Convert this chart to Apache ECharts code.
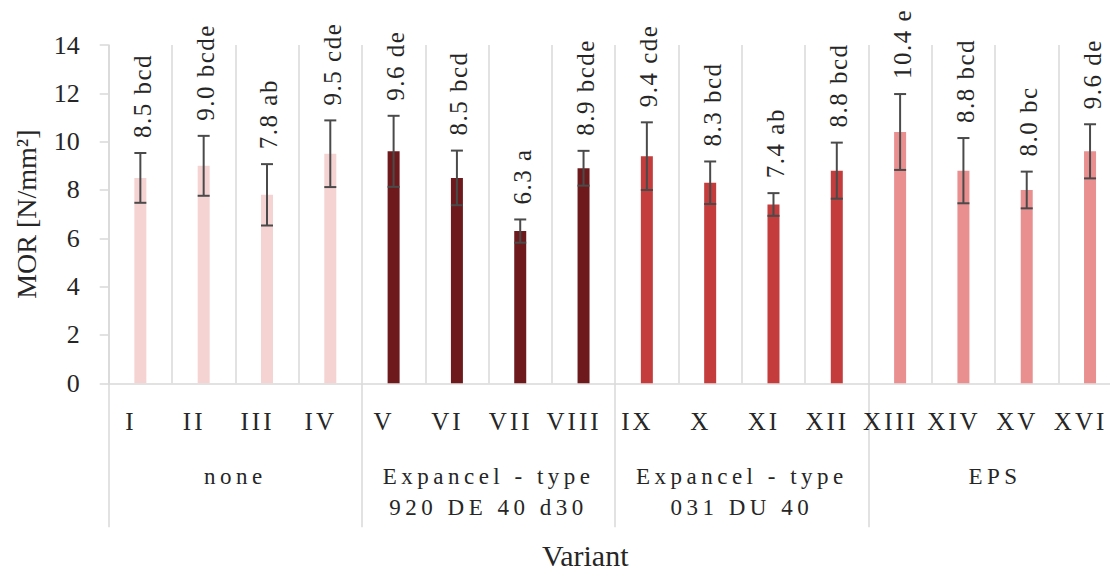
<!DOCTYPE html>
<html>
<head>
<meta charset="utf-8">
<script src="https://cdn.jsdelivr.net/npm/echarts@6/dist/echarts.min.js"></script>
<style>
  html, body { margin: 0; padding: 0; background: #fff; }
  #chart { width: 1110px; height: 571px; }
</style>
</head>
<body>
<div id="chart"></div>
<script>
// Variant labels along the category axis
const variants = ['I', 'II', 'III', 'IV', 'V', 'VI', 'VII', 'VIII',
                  'IX', 'X', 'XI', 'XII', 'XIII', 'XIV', 'XV', 'XVI'];
// Blowing-agent groups, four variants each
const groups = ['none', 'Expancel - type\n920 DE 40 d30', 'Expancel - type\n031 DU 40', 'EPS'];
const groupSize = 4;
// Mean MOR [N/mm²]
const morMean = [8.5, 9.0, 7.8, 9.5, 9.6, 8.5, 6.3, 8.9, 9.4, 8.3, 7.4, 8.8, 10.4, 8.8, 8.0, 9.6];
// Standard deviation
const morSd = [1.03, 1.24, 1.27, 1.38, 1.47, 1.13, 0.48, 0.72, 1.40, 0.88, 0.47, 1.16, 1.57, 1.35, 0.76, 1.12];
// Homogeneous-group letters
const letters = ['bcd', 'bcde', 'ab', 'cde', 'de', 'bcd', 'a', 'bcde',
                 'cde', 'bcd', 'ab', 'bcd', 'e', 'bcd', 'bc', 'de'];
// Y-axis range
const yMin = 0, yMax = 14, yStep = 2;

const groupColors = ['#f6d3d3', '#6e1a1c', '#c43c3c', '#ea8f90'];
const FONT = 'Liberation Serif';
const gridColor = '#d9d9d9';
const textColor = '#262626';

const chart = echarts.init(document.getElementById('chart'), null, { renderer: 'svg' });

const barData = morMean.map((v, i) => ({
  value: v,
  itemStyle: { color: groupColors[Math.floor(i / groupSize)] }
}));

const errData = morMean.map((v, i) => [i, v - morSd[i], v + morSd[i], v]);
const valueLabels = morMean.map((v, i) => v.toFixed(1) + ' ' + letters[i]);

chart.setOption({
  animation: false,
  backgroundColor: '#fff',
  grid: {
    left: 108.7, top: 45, width: 1013, bottom: 187.7,
    containLabel: false, outerBoundsMode: 'none'
  },
  xAxis: [
    {
      type: 'category',
      data: variants,
      boundaryGap: true,
      axisLine: { show: true, lineStyle: { color: gridColor, width: 1.5 } },
      axisTick: { show: false },
      splitLine: { show: true, interval: 0, lineStyle: { color: gridColor, width: 1.5 } },
      axisLabel: {
        interval: 0, margin: 26,
        fontFamily: FONT, fontSize: 25, color: textColor,
        padding: [0, 19, 0, 0]
      }
    },
    {
      type: 'category',
      data: groups,
      position: 'bottom',
      boundaryGap: true,
      axisLine: { show: false },
      axisTick: { show: true, interval: 0, length: 144, inside: false,
                  lineStyle: { color: gridColor, width: 1.5 } },
      axisLabel: {
        interval: 0, margin: 78,
        fontFamily: FONT, fontSize: 23, color: textColor,
        verticalAlign: 'top', lineHeight: 31, align: 'center'
      },
      name: 'Variant',
      nameLocation: 'middle',
      nameGap: 157,
      nameTextStyle: { fontFamily: FONT, fontSize: 30, color: textColor, padding: [0, 60, 0, 0] }
    }
  ],
  yAxis: {
    type: 'value',
    min: yMin, max: yMax, interval: yStep,
    axisLine: { show: true, lineStyle: { color: gridColor, width: 1.5 } },
    axisTick: { show: true, length: 9, lineStyle: { color: gridColor, width: 1.5 } },
    splitLine: { show: false },
    axisLabel: { margin: 29, fontFamily: FONT, fontSize: 26, color: textColor },
    name: 'MOR [N/mm²]',
    nameLocation: 'middle',
    nameRotate: 90,
    nameGap: 68,
    nameTextStyle: { fontFamily: FONT, fontSize: 28, color: textColor }
  },
  series: [
    {
      type: 'bar',
      xAxisIndex: 0,
      data: barData,
      barWidth: 12
    },
    {
      type: 'custom',
      xAxisIndex: 0,
      data: errData,
      z: 5,
      renderItem: function (params, api) {
        const i = api.value(0);
        const lo = api.coord([i, api.value(1)]);
        const hi = api.coord([i, api.value(2)]);
        const capHalf = 6;
        const ls = { stroke: '#4a4a4a', lineWidth: 2 };
        return {
          type: 'group',
          children: [
            { type: 'line', shape: { x1: hi[0], y1: hi[1], x2: lo[0], y2: lo[1] }, style: ls },
            { type: 'line', shape: { x1: hi[0] - capHalf, y1: hi[1], x2: hi[0] + capHalf, y2: hi[1] }, style: ls },
            { type: 'line', shape: { x1: lo[0] - capHalf, y1: lo[1], x2: lo[0] + capHalf, y2: lo[1] }, style: ls },
            {
              type: 'text',
              x: hi[0] + 2, y: hi[1] - 15,
              rotation: Math.PI / 2,
              style: {
                text: valueLabels[i],
                x: 0, y: 0,
                align: 'left', verticalAlign: 'middle',
                fontFamily: FONT, fontSize: 25,
                fill: textColor
              }
            }
          ]
        };
      }
    }
  ]
});

// Wider tracking for the variant, group and value labels
const trackedVariants = new Set(variants);
const trackedGroups = new Set(['none', 'EPS', 'Expancel - type', '920 DE 40 d30', '031 DU 40']);
const trackedValues = new Set(valueLabels);
document.querySelectorAll('#chart text, #chart tspan').forEach(function (t) {
  const s = t.textContent.trim();
  if (trackedVariants.has(s)) t.style.letterSpacing = '3px';
  else if (trackedGroups.has(s)) t.style.letterSpacing = '4.5px';
  else if (trackedValues.has(s)) t.style.letterSpacing = '1.5px';
});
</script>
</body>
</html>
